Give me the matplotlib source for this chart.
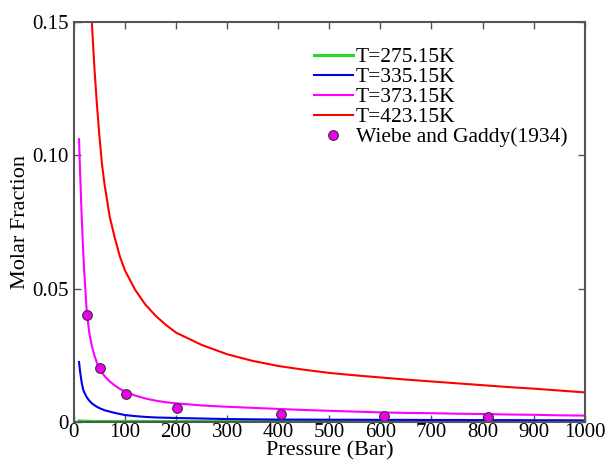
import numpy as np
import matplotlib
matplotlib.use("Agg")
import matplotlib.pyplot as plt

plt.rcParams['font.family'] = ['Liberation Serif', 'DejaVu Serif']

# curves (pressure in bar, molar fraction)
p_curve = [10, 12, 15, 18, 20, 25, 30, 35, 40, 45, 50, 55, 60, 70, 80, 90, 100,
           120, 140, 160, 180, 200, 250, 300, 350, 400, 450, 500, 550, 600,
           650, 700, 750, 800, 850, 900, 950, 1000]
x_275 = [0.0004, 0.0004, 0.0003, 0.0003, 0.0003, 0.0003, 0.0003, 0.0002, 0.0002, 0.0002,
         0.0002, 0.0002, 0.0002, 0.0002, 0.0002, 0.0002, 0.0002, 0.0002, 0.0002, 0.0002,
         0.0002, 0.0002, 0.0002, 0.0002, 0.0002, 0.0002, 0.0002, 0.0002, 0.0002, 0.0002,
         0.0002, 0.0002, 0.0002, 0.0002, 0.0002, 0.0002, 0.0002, 0.0002]
x_335 = [0.0225, 0.0190, 0.0150, 0.0122, 0.0112, 0.0093, 0.0080, 0.0070, 0.0063, 0.0057,
         0.0052, 0.0048, 0.0044, 0.0039, 0.0034, 0.0030, 0.0026, 0.0022, 0.0019, 0.0017,
         0.0016, 0.0015, 0.0013, 0.0011, 0.0010, 0.0009, 0.0009, 0.00085, 0.00085, 0.0008,
         0.0008, 0.00075, 0.00075, 0.0007, 0.0007, 0.00065, 0.00065, 0.0006]
x_373 = [0.1060, 0.0940, 0.0780, 0.0645, 0.0570, 0.0415, 0.0335, 0.0285, 0.0250, 0.0222,
         0.0201, 0.0185, 0.0172, 0.0152, 0.0137, 0.0124, 0.0114, 0.0099, 0.0088, 0.0080,
         0.0074, 0.0070, 0.0062, 0.0057, 0.0053, 0.0049, 0.0045, 0.0042, 0.0039, 0.0036,
         0.0034, 0.0033, 0.0031, 0.0030, 0.0028, 0.0027, 0.0025, 0.0024]
x_423 = [0.52, 0.43, 0.34, 0.28, 0.25, 0.20, 0.172, 0.150, 0.133, 0.119,
         0.107, 0.0965, 0.089, 0.077, 0.069, 0.062, 0.0568, 0.0495, 0.0440, 0.0398,
         0.0364, 0.0335, 0.0289, 0.0254, 0.0229, 0.0210, 0.0196, 0.0184, 0.0175, 0.0167,
         0.0159, 0.0152, 0.0145, 0.0138, 0.0131, 0.0125, 0.0118, 0.0111]

# Wiebe and Gaddy (1934) experimental points
p_exp = [25.33, 50.66, 101.33, 202.65, 405.3, 607.95, 810.6]
x_exp = [0.0401, 0.0201, 0.0104, 0.0054, 0.0030, 0.0023, 0.0018]

fig = plt.figure(figsize=(6.11, 4.62), dpi=100)
ax = fig.add_axes([0.121, 0.0866, 0.836, 0.866])

ax.plot(p_curve, x_275, color='#22dd22', lw=2.2, label='T=275.15K')
ax.plot(p_curve, x_335, color='#0000ee', lw=1.5, label='T=335.15K')
ax.plot(p_curve, x_373, color='#ff00ff', lw=1.5, label='T=373.15K')
ax.plot(p_curve, x_423, color='#ff0000', lw=1.5, label='T=423.15K')
ax.plot(p_exp, x_exp, 'o', color='#ee00ee', mec='#333333', mew=0.8, ms=7,
        label='Wiebe and Gaddy(1934)')

ax.set_xlim(0, 1000)
ax.set_ylim(0, 0.15)
ax.set_xticks(np.arange(0, 1001, 100))
ax.set_yticks([0, 0.05, 0.10, 0.15])
ax.set_yticklabels(['0', '0.05', '0.10', '0.15'])
ax.tick_params(direction='in', top=True, right=True, labelsize=15, length=5,
               color='#555555', width=1)
ax.tick_params(axis='x', pad=1)
for s in ax.spines.values():
    s.set_color('#555555')
    s.set_linewidth(1.5)

ax.set_xlabel('Pressure (Bar)', fontsize=16, labelpad=-1)
ax.set_ylabel('Molar Fraction', fontsize=16, labelpad=2)

ax.legend(loc='upper right', bbox_to_anchor=(1.0, 0.98), frameon=False, fontsize=15.5,
          handlelength=1.8, handletextpad=0.15, labelspacing=0.0, borderpad=0.3)

fig.savefig('out.png', dpi=100)
